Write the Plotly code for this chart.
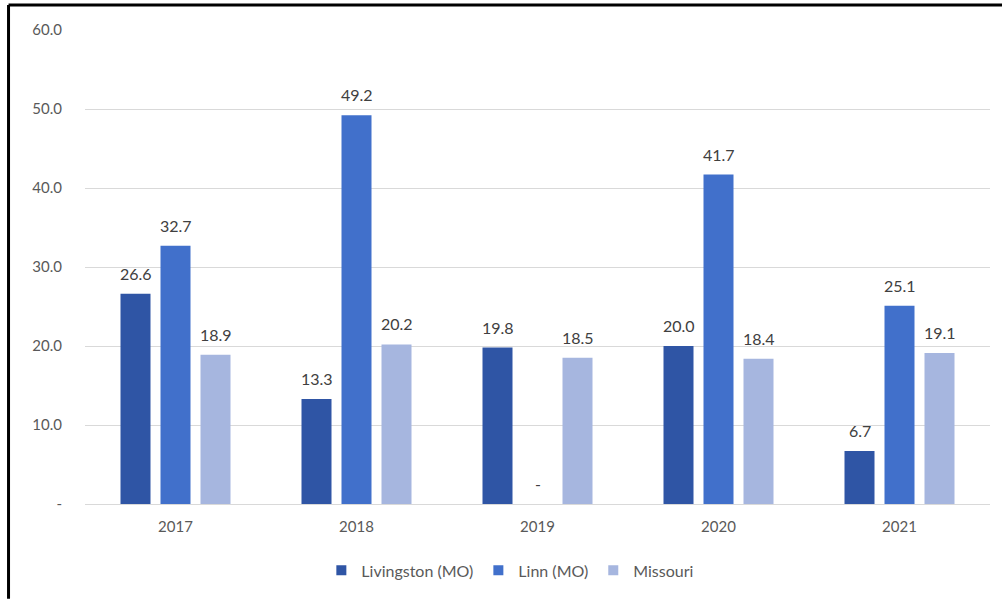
import plotly.graph_objects as go

years = ["2017", "2018", "2019", "2020", "2021"]
livingston = [26.6, 13.3, 19.8, 20.0, 6.7]
linn = [32.7, 49.2, 0.0, 41.7, 25.1]
missouri = [18.9, 20.2, 18.5, 18.4, 19.1]

series = [
    ("Livingston (MO)", livingston, "#2F55A5"),
    ("Linn (MO)", linn, "#4170CB"),
    ("Missouri", missouri, "#A6B6DF"),
]

tick_vals = [0, 10, 20, 30, 40, 50, 60]
tick_text = ["-", "10.0", "20.0", "30.0", "40.0", "50.0", "60.0"]

# horizontal offset (px) of each series' bar within its year group
group_shift = [-40, 0, 40]


def fmt(v):
    return "-" if v == 0 else f"{v:.1f}"


fig = go.Figure()
for name, vals, color in series:
    fig.add_trace(go.Bar(
        x=years, y=vals, name=name, showlegend=False,
        marker=dict(color=color, line=dict(width=0)),
    ))

# value labels above each bar (category axis: x given as category index)
for (name, vals, color), dx in zip(series, group_shift):
    for i, v in enumerate(vals):
        fig.add_annotation(
            x=i, y=v, xref="x", yref="y", text=fmt(v), showarrow=False,
            xshift=dx, yanchor="bottom", yshift=9,
            font=dict(size=16, color="#404040"),
        )

# square legend swatches
for name, vals, color in series:
    fig.add_trace(go.Scatter(
        x=[years[0]], y=[None], mode="markers", name=name,
        marker=dict(symbol="square", size=10, color=color),
    ))

fig.update_layout(
    width=1002, height=600,
    margin=dict(l=85, r=12, t=30, b=96),
    paper_bgcolor="white", plot_bgcolor="white",
    font=dict(family="Lato, Carlito, Calibri, sans-serif", size=15, color="#595959"),
    barmode="group",
    bargap=0.337,
    bargroupgap=0.25,
    showlegend=True,
    legend=dict(orientation="h", x=0.47, xanchor="center", y=-0.14, yanchor="middle",
                font=dict(size=16, color="#595959"), itemwidth=30,
                traceorder="normal"),
    xaxis=dict(type="category", categoryorder="array", categoryarray=years,
               range=[-0.5, len(years) - 0.5],
               showgrid=False, showline=False, ticks="", ticklabelstandoff=12,
               tickfont=dict(size=15, color="#595959")),
    yaxis=dict(range=[0, 60], tickvals=tick_vals, ticktext=tick_text,
               showgrid=True, gridcolor="#D9D9D9", gridwidth=1,
               zeroline=True, zerolinecolor="#D9D9D9", zerolinewidth=1,
               showline=False, ticks="", ticklabelstandoff=22,
               tickfont=dict(size=15, color="#595959")),
)

# outer frame (left and top edges)
fig.add_shape(type="line", xref="paper", yref="paper",
              x0=-0.0845, x1=1.02, y0=1.053, y1=1.053,
              line=dict(color="black", width=3))
fig.add_shape(type="line", xref="paper", yref="paper",
              x0=-0.0845, x1=-0.0845, y0=1.053, y1=-0.2,
              line=dict(color="black", width=3))

fig.write_html("out.html")
